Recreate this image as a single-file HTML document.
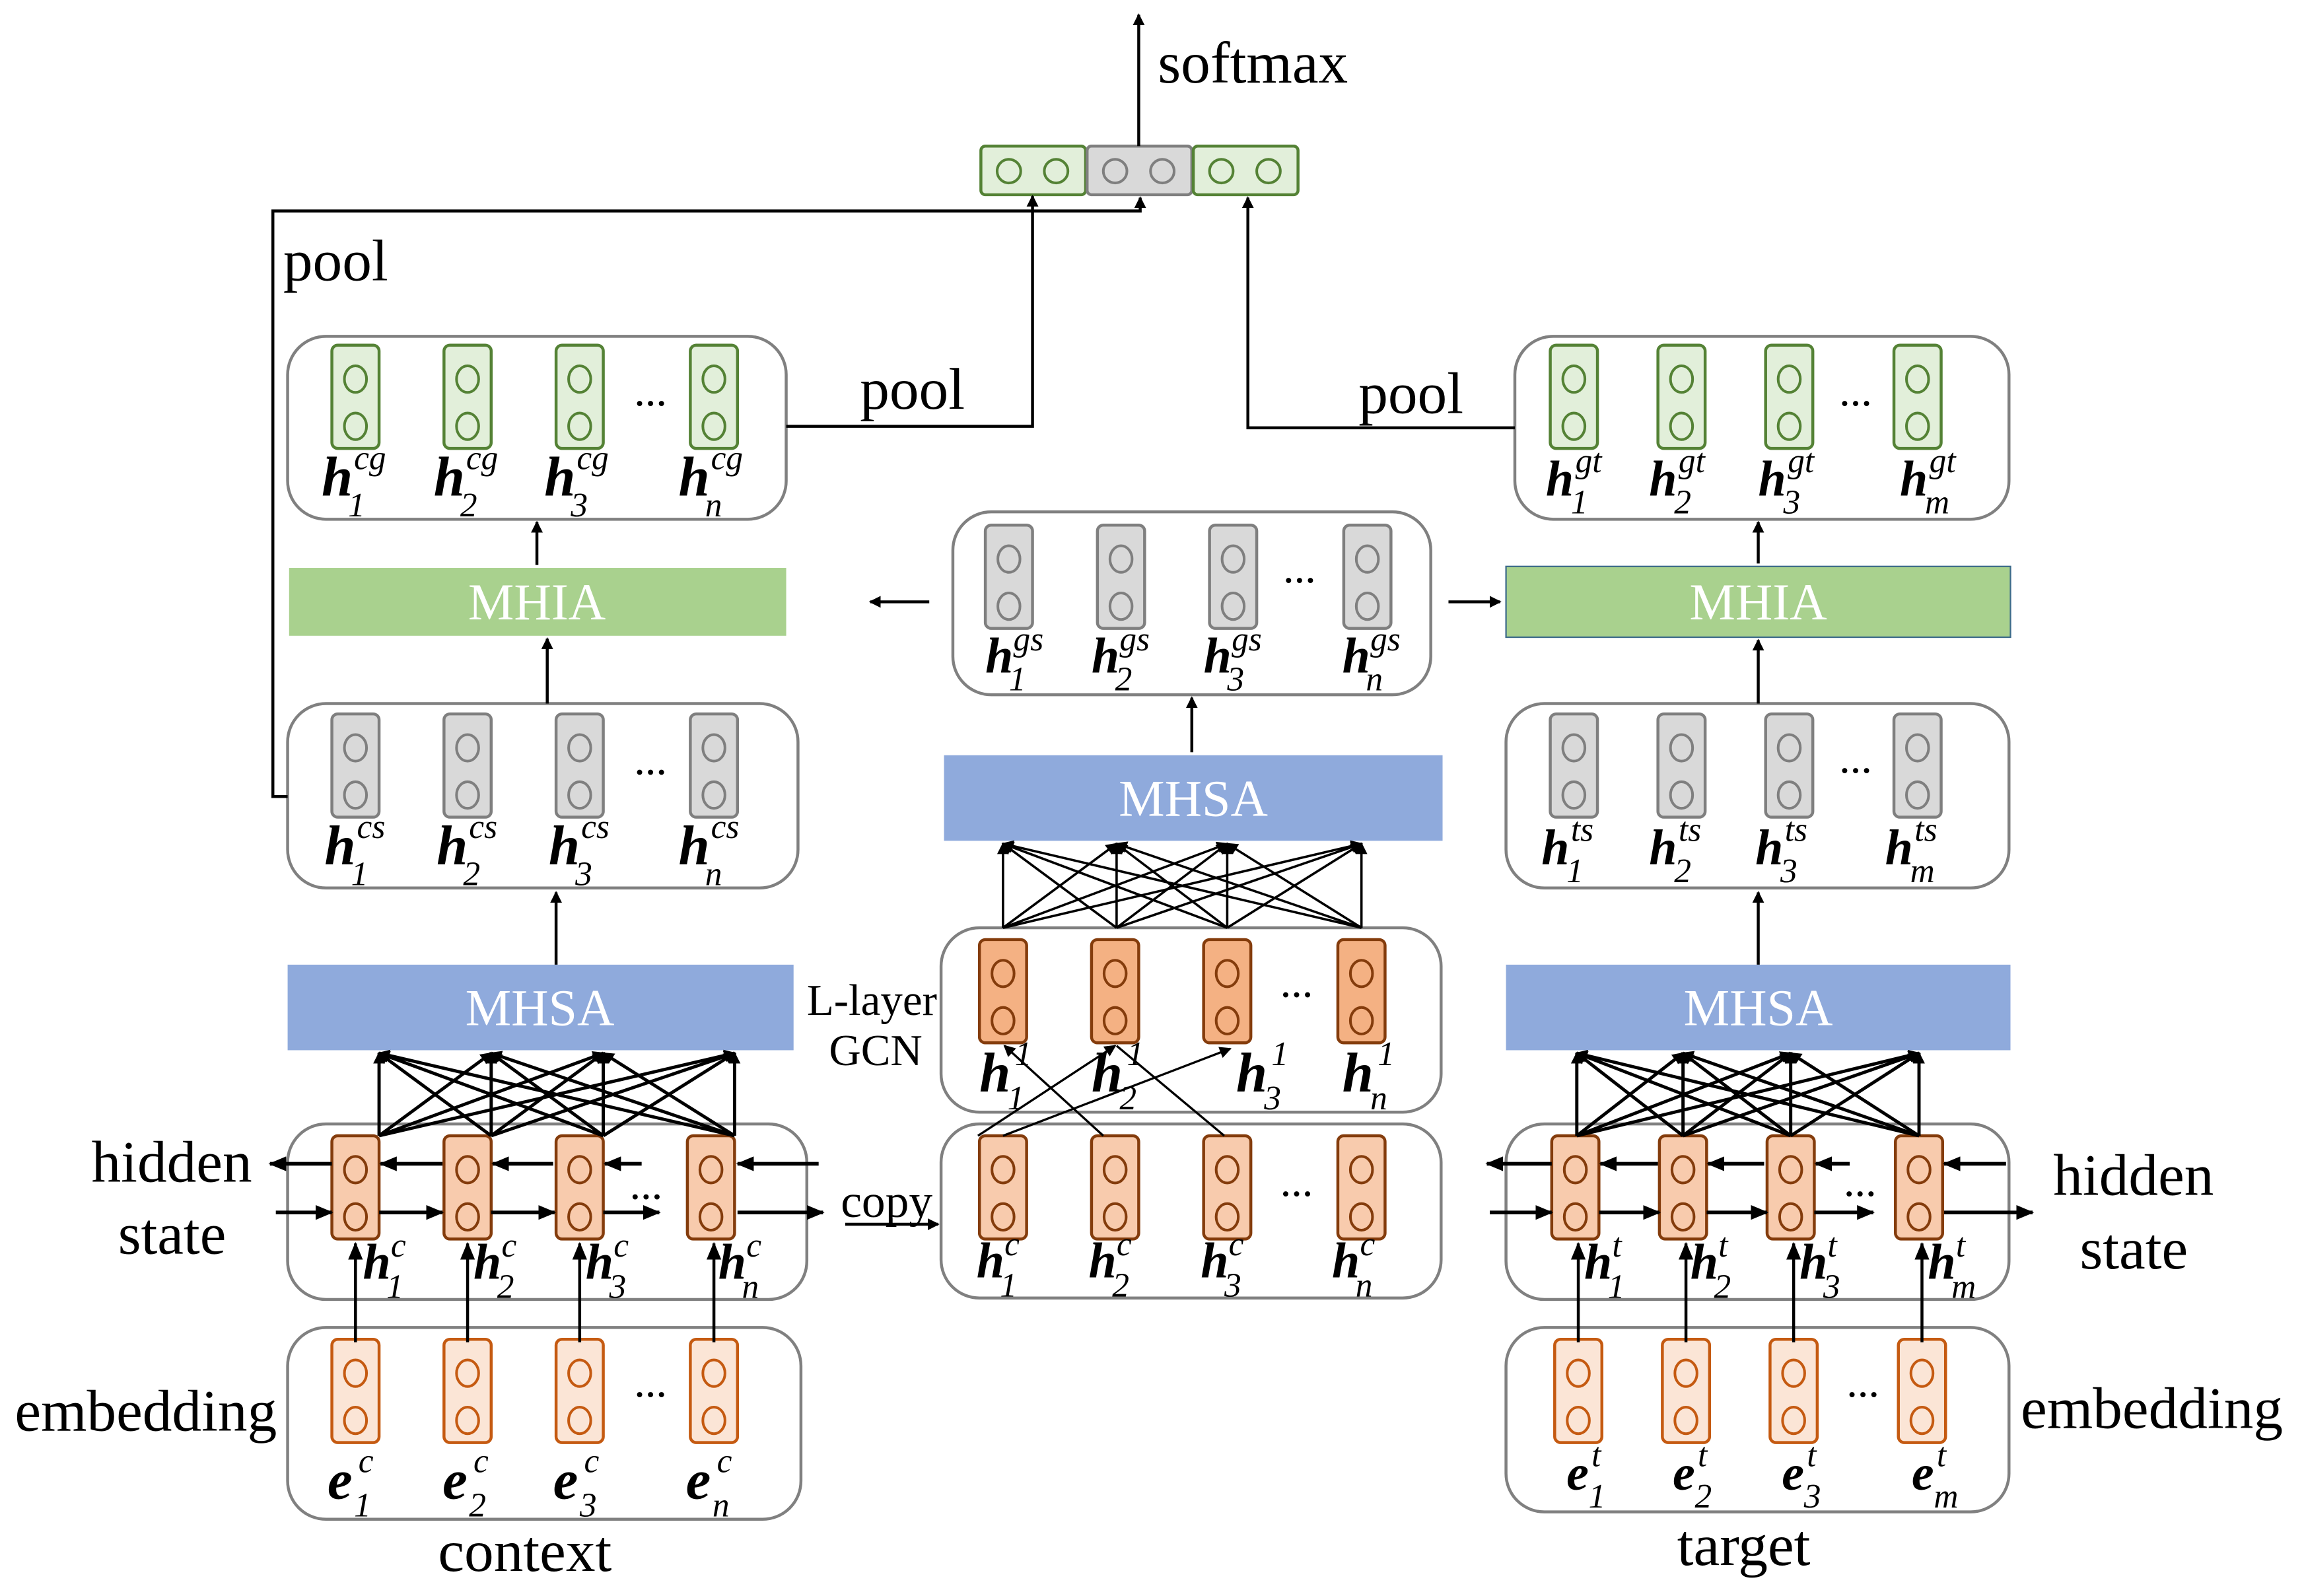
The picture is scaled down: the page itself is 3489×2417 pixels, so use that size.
<!DOCTYPE html>
<html><head><meta charset="utf-8"><style>
html,body{margin:0;padding:0;background:#fff}
svg{display:block}
text{font-family:"Liberation Serif",serif;fill:#000}
.t{font-size:40px}
.h{font-size:38px;font-style:italic;font-weight:bold}
.hs{font-size:34px;font-style:italic;font-weight:bold}
.s{font-size:23px;font-style:italic}
.d{font-size:22px;font-weight:bold}
.bar{font-size:35px;fill:#fff}
</style></head><body>
<svg id="svg" width="3489" height="2417" viewBox="0 0 1562 1082" xmlns="http://www.w3.org/2000/svg">
<defs>
<marker id="a" markerWidth="8" markerHeight="8" refX="7" refY="4" orient="auto" markerUnits="userSpaceOnUse"><path d="M0,0 L8,4 L0,8 Z" fill="#000"/></marker>
<marker id="b" markerWidth="12" markerHeight="10" refX="11" refY="5" orient="auto" markerUnits="userSpaceOnUse"><path d="M0,0 L12,5 L0,10 Z" fill="#000"/></marker>
</defs>
<g id="shapes"></g>
<rect x="196" y="385" width="337" height="46" fill="#a9d18e"/>
<text x="364" y="420" class="bar" text-anchor="middle">MHIA</text>
<rect x="1021" y="384" width="342" height="48" fill="#a9d18e" stroke="#3c6a8a" stroke-width="1"/>
<text x="1192" y="420" class="bar" text-anchor="middle">MHIA</text>
<rect x="640" y="512" width="338" height="58" fill="#8faadc"/>
<text x="809" y="553" class="bar" text-anchor="middle">MHSA</text>
<rect x="195" y="654" width="343" height="58" fill="#8faadc"/>
<text x="366" y="695" class="bar" text-anchor="middle">MHSA</text>
<rect x="1021" y="654" width="342" height="58" fill="#8faadc"/>
<text x="1192" y="695" class="bar" text-anchor="middle">MHSA</text>
<g id="lines"></g>
<text x="785" y="56" class="t">softmax</text>
<text x="192" y="190" class="t">pool</text>
<text x="583" y="277" class="t">pool</text>
<text x="921" y="280" class="t">pool</text>
<text x="62" y="801" class="t">hidden</text>
<text x="80" y="850" class="t">state</text>
<text x="1392" y="810" class="t">hidden</text>
<text x="1410" y="860" class="t">state</text>
<text x="10" y="970" class="t">embedding</text>
<text x="1370" y="968" class="t">embedding</text>
<text x="297" y="1065" class="t">context</text>
<text x="1137" y="1061" class="t">target</text>
<text x="547" y="688" style="font-size:30px">L-layer</text>
<text x="562" y="722" style="font-size:30px">GCN</text>
<text x="570" y="825" style="font-size:32px">copy</text>
<text x="430" y="275" class="d">…</text><text x="430" y="525" class="d">…</text><text x="427" y="813" class="d">…</text><text x="430" y="947" class="d">…</text>
<text x="870" y="395" class="d">…</text><text x="868" y="676" class="d">…</text><text x="868" y="811" class="d">…</text>
<text x="1247" y="275" class="d">…</text><text x="1247" y="524" class="d">…</text><text x="1250" y="811" class="d">…</text><text x="1252" y="947" class="d">…</text>
<text y="336"><tspan x="218" class="h">h</tspan><tspan x="240" y="318" class="s">cg</tspan><tspan x="236" y="350" class="s">1</tspan></text>
<text y="336"><tspan x="294" class="h">h</tspan><tspan x="316" y="318" class="s">cg</tspan><tspan x="312" y="350" class="s">2</tspan></text>
<text y="336"><tspan x="369" class="h">h</tspan><tspan x="391" y="318" class="s">cg</tspan><tspan x="387" y="350" class="s">3</tspan></text>
<text y="336"><tspan x="460" class="h">h</tspan><tspan x="482" y="318" class="s">cg</tspan><tspan x="478" y="350" class="s">n</tspan></text>
<text y="586"><tspan x="220" class="h">h</tspan><tspan x="242" y="568" class="s">cs</tspan><tspan x="238" y="600" class="s">1</tspan></text>
<text y="586"><tspan x="296" class="h">h</tspan><tspan x="318" y="568" class="s">cs</tspan><tspan x="314" y="600" class="s">2</tspan></text>
<text y="586"><tspan x="372" class="h">h</tspan><tspan x="394" y="568" class="s">cs</tspan><tspan x="390" y="600" class="s">3</tspan></text>
<text y="586"><tspan x="460" class="h">h</tspan><tspan x="482" y="568" class="s">cs</tspan><tspan x="478" y="600" class="s">n</tspan></text>
<text y="867"><tspan x="246" class="hs">h</tspan><tspan x="265" y="852" class="s">c</tspan><tspan x="262" y="880" class="s">1</tspan></text>
<text y="867"><tspan x="321" class="hs">h</tspan><tspan x="340" y="852" class="s">c</tspan><tspan x="337" y="880" class="s">2</tspan></text>
<text y="867"><tspan x="397" class="hs">h</tspan><tspan x="416" y="852" class="s">c</tspan><tspan x="413" y="880" class="s">3</tspan></text>
<text y="867"><tspan x="487" class="hs">h</tspan><tspan x="506" y="852" class="s">c</tspan><tspan x="503" y="880" class="s">n</tspan></text>
<text y="1016"><tspan x="222" class="h">e</tspan><tspan x="243" y="998" class="s">c</tspan><tspan x="240" y="1028" class="s">1</tspan></text>
<text y="1016"><tspan x="300" class="h">e</tspan><tspan x="321" y="998" class="s">c</tspan><tspan x="318" y="1028" class="s">2</tspan></text>
<text y="1016"><tspan x="375" class="h">e</tspan><tspan x="396" y="998" class="s">c</tspan><tspan x="393" y="1028" class="s">3</tspan></text>
<text y="1016"><tspan x="465" class="h">e</tspan><tspan x="486" y="998" class="s">c</tspan><tspan x="483" y="1028" class="s">n</tspan></text>
<text y="456"><tspan x="668" class="hs">h</tspan><tspan x="687" y="441" class="s">gs</tspan><tspan x="684" y="468" class="s">1</tspan></text>
<text y="456"><tspan x="740" class="hs">h</tspan><tspan x="759" y="441" class="s">gs</tspan><tspan x="756" y="468" class="s">2</tspan></text>
<text y="456"><tspan x="816" class="hs">h</tspan><tspan x="835" y="441" class="s">gs</tspan><tspan x="832" y="468" class="s">3</tspan></text>
<text y="456"><tspan x="910" class="hs">h</tspan><tspan x="929" y="441" class="s">gs</tspan><tspan x="926" y="468" class="s">n</tspan></text>
<text y="740"><tspan x="664" class="h">h</tspan><tspan x="688" y="722" class="s">1</tspan><tspan x="683" y="752" class="s">1</tspan></text>
<text y="740"><tspan x="740" class="h">h</tspan><tspan x="764" y="722" class="s">1</tspan><tspan x="759" y="752" class="s">2</tspan></text>
<text y="740"><tspan x="838" class="h">h</tspan><tspan x="862" y="722" class="s">1</tspan><tspan x="857" y="752" class="s">3</tspan></text>
<text y="740"><tspan x="910" class="h">h</tspan><tspan x="934" y="722" class="s">1</tspan><tspan x="929" y="752" class="s">n</tspan></text>
<text y="866"><tspan x="662" class="hs">h</tspan><tspan x="681" y="851" class="s">c</tspan><tspan x="678" y="879" class="s">1</tspan></text>
<text y="866"><tspan x="738" class="hs">h</tspan><tspan x="757" y="851" class="s">c</tspan><tspan x="754" y="879" class="s">2</tspan></text>
<text y="866"><tspan x="814" class="hs">h</tspan><tspan x="833" y="851" class="s">c</tspan><tspan x="830" y="879" class="s">3</tspan></text>
<text y="866"><tspan x="903" class="hs">h</tspan><tspan x="922" y="851" class="s">c</tspan><tspan x="919" y="879" class="s">n</tspan></text>
<text y="336"><tspan x="1048" class="hs">h</tspan><tspan x="1068" y="320" class="s">gt</tspan><tspan x="1065" y="348" class="s">1</tspan></text>
<text y="336"><tspan x="1118" class="hs">h</tspan><tspan x="1138" y="320" class="s">gt</tspan><tspan x="1135" y="348" class="s">2</tspan></text>
<text y="336"><tspan x="1192" class="hs">h</tspan><tspan x="1212" y="320" class="s">gt</tspan><tspan x="1209" y="348" class="s">3</tspan></text>
<text y="336"><tspan x="1288" class="hs">h</tspan><tspan x="1308" y="320" class="s">gt</tspan><tspan x="1305" y="348" class="s">m</tspan></text>
<text y="586"><tspan x="1045" class="hs">h</tspan><tspan x="1065" y="570" class="s">ts</tspan><tspan x="1062" y="598" class="s">1</tspan></text>
<text y="586"><tspan x="1118" class="hs">h</tspan><tspan x="1138" y="570" class="s">ts</tspan><tspan x="1135" y="598" class="s">2</tspan></text>
<text y="586"><tspan x="1190" class="hs">h</tspan><tspan x="1210" y="570" class="s">ts</tspan><tspan x="1207" y="598" class="s">3</tspan></text>
<text y="586"><tspan x="1278" class="hs">h</tspan><tspan x="1298" y="570" class="s">ts</tspan><tspan x="1295" y="598" class="s">m</tspan></text>
<text y="867"><tspan x="1074" class="hs">h</tspan><tspan x="1093" y="852" class="s">t</tspan><tspan x="1090" y="880" class="s">1</tspan></text>
<text y="867"><tspan x="1146" class="hs">h</tspan><tspan x="1165" y="852" class="s">t</tspan><tspan x="1162" y="880" class="s">2</tspan></text>
<text y="867"><tspan x="1220" class="hs">h</tspan><tspan x="1239" y="852" class="s">t</tspan><tspan x="1236" y="880" class="s">3</tspan></text>
<text y="867"><tspan x="1307" class="hs">h</tspan><tspan x="1326" y="852" class="s">t</tspan><tspan x="1323" y="880" class="s">m</tspan></text>
<text y="1010"><tspan x="1062" class="hs">e</tspan><tspan x="1079" y="994" class="s">t</tspan><tspan x="1077" y="1022" class="s">1</tspan></text>
<text y="1010"><tspan x="1134" class="hs">e</tspan><tspan x="1151" y="994" class="s">t</tspan><tspan x="1149" y="1022" class="s">2</tspan></text>
<text y="1010"><tspan x="1208" class="hs">e</tspan><tspan x="1225" y="994" class="s">t</tspan><tspan x="1223" y="1022" class="s">3</tspan></text>
<text y="1010"><tspan x="1296" class="hs">e</tspan><tspan x="1313" y="994" class="s">t</tspan><tspan x="1311" y="1022" class="s">m</tspan></text>
</svg>
<script>
var NS="http://www.w3.org/2000/svg";
var S=document.getElementById("shapes"),L=document.getElementById("lines");
function el(p,t,a){var e=document.createElementNS(NS,t);for(var k in a)e.setAttribute(k,a[k]);p.appendChild(e);return e;}
function box(x1,y1,x2,y2){el(S,"rect",{x:x1,y:y1,width:x2-x1,height:y2-y1,rx:26,fill:"#fff",stroke:"#808080","stroke-width":2});}
[[195,228,533,352],[195,477,541,602],[195,762,547,881],[195,900,543,1030],[646,347,970,471],[638,629,977,754],[638,762,977,880],[1027,228,1362,352],[1021,477,1362,602],[1021,762,1362,881],[1021,900,1362,1025]].forEach(function(b){box.apply(null,b)});
var C={g:["#e2efda","#548235"],s:["#d9d9d9","#7f7f7f"],o:["#f8cbad","#843c0c"],O:["#f4b183","#843c0c"],e:["#fbe5d6","#c55a11"]};
function cells(xs,y,c){xs.forEach(function(x){el(S,"rect",{x:x-16,y:y,width:32,height:70,rx:4,fill:C[c][0],stroke:C[c][1],"stroke-width":2});
[23,55].forEach(function(d){el(S,"ellipse",{cx:x,cy:y+d,rx:7.5,ry:9,fill:"none",stroke:C[c][1],"stroke-width":1.8});});});}
cells([241,317,393,484],234,"g");cells([241,317,393,484],484,"s");cells([241,317,393,482],770,"o");cells([241,317,393,484],908,"e");
cells([684,760,836,927],356,"s");cells([680,756,832,923],637,"O");cells([680,756,832,923],770,"o");
cells([1067,1140,1213,1300],234,"g");cells([1067,1140,1213,1300],484,"s");cells([1068,1141,1214,1301],770,"o");cells([1070,1143,1216,1303],908,"e");
[[665,"g"],[737,"s"],[809,"g"]].forEach(function(p){el(S,"rect",{x:p[0],y:99,width:71,height:33,rx:3,fill:C[p[1]][0],stroke:C[p[1]][1],"stroke-width":2});
[19,51].forEach(function(d){el(S,"circle",{cx:p[0]+d,cy:116,r:8,fill:"none",stroke:C[p[1]][1],"stroke-width":1.8});});});
function ln(x1,y1,x2,y2,m,w){var a={x1:x1,y1:y1,x2:x2,y2:y2,stroke:"#000","stroke-width":w||2};if(m)a["marker-end"]="url(#"+m+")";el(L,"line",a);}
function pl(pts,m){el(L,"polyline",{points:pts,fill:"none",stroke:"#000","stroke-width":2,"marker-end":"url(#"+m+")"});}
function full(xs,yb,yt,w){xs.forEach(function(a){xs.forEach(function(b){ln(a,yb,b,yt,"a",w);});});}
full([257,333,409,498],770,714,2.2);full([680,757,832,923],629,572,1.6);full([1069,1141,1214,1301],770,714,2.2);
ln(748,770,681,709,"a",1.5);ln(663,770,756,709,"a",1.5);ln(830,770,757,709,null,1.5);ln(680,770,834,711,"a",1.5);
[[555,500],[435,410],[375,334],[300,258],[225,183]].forEach(function(p){ln(p[0],789,p[1],789,"b",2.5);});
[[187,225],[257,300],[333,376],[409,447],[500,558]].forEach(function(p){ln(p[0],822,p[1],822,"b",2.5);});
[[1052,1008],[1124,1085],[1196,1158],[1254,1231],[1360,1318]].forEach(function(p){ln(p[0],789,p[1],789,"b",2.5);});
[[1010,1052],[1084,1125],[1157,1198],[1230,1270],[1318,1378]].forEach(function(p){ln(p[0],822,p[1],822,"b",2.5);});
[241,317,393,484].forEach(function(x){ln(x,910,x,843,"b",2);});
[1070,1143,1216,1303].forEach(function(x){ln(x,910,x,843,"b",2);});
ln(377,654,377,605,"a");ln(371,477,371,433,"a");ln(364,383,364,354,"a");
ln(808,510,808,473,"a");ln(1192,654,1192,605,"a");ln(1192,477,1192,434,"a");ln(1192,382,1192,354,"a");
ln(630,408,590,408,"a");ln(982,408,1017,408,"a");
ln(573,830,636,830,"a");
pl("195,540 185,540 185,143 773,143 773,134","a");
pl("533,289 700,289 700,133","a");
pl("1027,290 846,290 846,134","a");
ln(772,99,772,10,"a");
</script>
</body></html>
